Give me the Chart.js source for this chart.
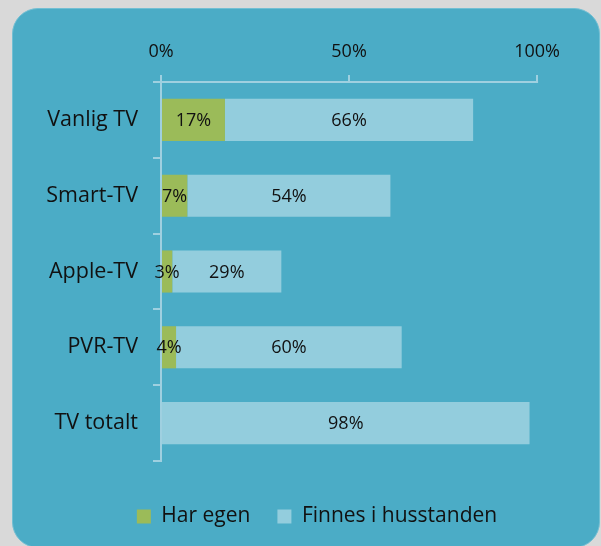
<!DOCTYPE html>
<html>
<head>
<meta charset="utf-8">
<script src="https://cdn.jsdelivr.net/npm/chart.js@4"></script>
<style>
  html, body { margin: 0; padding: 0; background: #d9d9d9; }
  #wrap { position: relative; width: 601px; height: 546px; overflow: hidden; background: #d9d9d9; }
  #panel { position: absolute; left: 12px; top: 8px; width: 588px; height: 540px; background: #4bacc6;
           border-radius: 26px; box-sizing: border-box; border: 1px solid #72bfd3; }
  #c { position: absolute; left: 0; top: 0; }
</style>
</head>
<body>
<div id="wrap">
  <div id="panel"></div>
  <canvas id="c" width="601" height="546"></canvas>
</div>
<script>
const categories = ['Vanlig TV', 'Smart-TV', 'Apple-TV', 'PVR-TV', 'TV totalt'];
const harEgen = [17, 7, 3, 4, 0];
const finnes = [66, 54, 29, 60, 98];
const xTicks = [0, 50, 100];
const seriesNames = ['Har egen', 'Finnes i husstanden'];

const FONT = "'Open Sans', 'DejaVu Sans', sans-serif";
const AXIS = '#9fd0e0';
const TEXT = '#111111';

const labelPlugin = {
  id: 'segLabels',
  afterDatasetsDraw(chart) {
    const ctx = chart.ctx;
    ctx.save();
    ctx.font = "18px " + FONT;
    ctx.fillStyle = TEXT;
    ctx.textAlign = 'center';
    ctx.textBaseline = 'middle';
    chart.data.datasets.forEach((ds, di) => {
      const meta = chart.getDatasetMeta(di);
      meta.data.forEach((el, i) => {
        const v = ds.data[i];
        if (!v) return;
        const p = el.getProps(['x', 'base', 'y'], true);
        ctx.fillText(v + '%', (p.x + p.base) / 2, p.y + 1);
      });
    });
    ctx.restore();
  }
};

const axisLinePlugin = {
  id: 'xAxisLine',
  afterDraw(chart) {
    const xs = chart.scales.x;
    const ctx = chart.ctx;
    const y = chart.chartArea.top;
    ctx.save();
    ctx.strokeStyle = AXIS;
    ctx.lineWidth = 2;
    ctx.beginPath();
    ctx.moveTo(xs.getPixelForValue(xTicks[0]), y);
    ctx.lineTo(xs.getPixelForValue(xTicks[xTicks.length - 1]) + 1, y);
    ctx.stroke();
    ctx.restore();
  }
};

new Chart(document.getElementById('c'), {
  type: 'bar',
  data: {
    labels: categories,
    datasets: [
      { label: seriesNames[0], data: harEgen, backgroundColor: '#9bbb59', borderWidth: 0,
        categoryPercentage: 1, barPercentage: 0.556 },
      { label: seriesNames[1], data: finnes, backgroundColor: '#93cddd', borderWidth: 0,
        categoryPercentage: 1, barPercentage: 0.556 }
    ]
  },
  options: {
    indexAxis: 'y',
    responsive: false,
    animation: false,
    devicePixelRatio: 1,
    layout: { padding: { left: 33, right: 0, top: 0, bottom: 9 } },
    scales: {
      x: {
        position: 'top',
        stacked: true,
        min: 0, max: 117,
        afterBuildTicks: (s) => { s.ticks = xTicks.map(v => ({ value: v })); },
        afterFit: (s) => { s.height = 82; },
        grid: { drawOnChartArea: false, drawTicks: true, tickLength: 7, color: AXIS, lineWidth: 2 },
        border: { display: false },
        ticks: { padding: 12, color: TEXT, font: { family: FONT, size: 18 },
                 callback: (v) => v + '%' }
      },
      y: {
        stacked: true,
        afterFit: (s) => { s.width = 128; },
        grid: { drawOnChartArea: false, drawTicks: true, tickLength: 8, color: AXIS, lineWidth: 2, offset: true },
        border: { display: true, color: AXIS, width: 2 },
        ticks: { padding: 15, color: TEXT, font: { family: FONT, size: 21.5 } }
      }
    },
    plugins: {
      legend: {
        position: 'bottom',
        title: { display: true, text: '', font: { size: 1, lineHeight: 1 }, padding: { top: 17, bottom: 0 } },
        labels: { boxWidth: 14, boxHeight: 14, padding: 27, color: TEXT, font: { family: FONT, size: 21 } }
      },
      tooltip: { enabled: false }
    }
  },
  plugins: [labelPlugin, axisLinePlugin]
});
</script>
</body>
</html>
